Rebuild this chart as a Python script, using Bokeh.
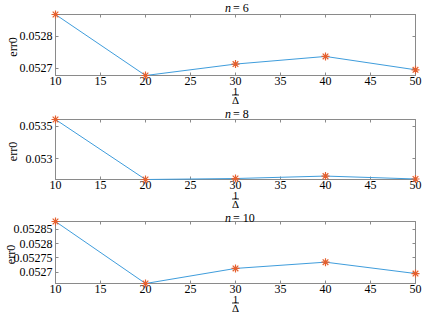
import math
from bokeh.plotting import figure
from bokeh.layouts import column
from bokeh.models import Range1d, LinearAxis, FixedTicker
from bokeh.core.properties import value
from bokeh.embed import file_html
from bokeh.resources import INLINE

# ---------------- data ----------------
x_vals = [10, 20, 30, 40, 50]
err_n6 = [0.052869, 0.052677, 0.052713, 0.052737, 0.052695]
err_n8 = [0.053608, 0.052682, 0.052697, 0.052735, 0.052690]
err_n10 = [0.052878, 0.052660, 0.052713, 0.052735, 0.052695]

x_ticks = [10, 15, 20, 25, 30, 35, 40, 45, 50]
yticks_n6 = [0.0527, 0.0528]
ylabels_n6 = ["0.0527", "0.0528"]
yticks_n8 = [0.053, 0.0535]
ylabels_n8 = ["0.053", "0.0535"]
yticks_n10 = [0.0527, 0.05275, 0.0528, 0.05285]
ylabels_n10 = ["0.0527", "0.05275", "0.0528", "0.05285"]

titles = ["6", "8", "10"]
x_label_top = "1"
x_label_bottom = "\u0394"
y_label = "err0"

# ---------------- style ----------------
W = 425
FONT = "Liberation Serif"
GRAY = "#8a8a8a"
LINE_C = "#3f9ddc"
MARK_C = "#e5602e"
LEFT, RIGHT = 55, 10

panels = [
    dict(y=err_n6, ticks=yticks_n6, labels=ylabels_n6, title=titles[0], top=14, fh=61, ylab_x=12.7, ty=7),
    dict(y=err_n8, ticks=yticks_n8, labels=ylabels_n8, title=titles[1], top=13, fh=60, ylab_x=12.7, ty=7),
    dict(y=err_n10, ticks=yticks_n10, labels=ylabels_n10, title=titles[2], top=9, fh=62, ylab_x=10.0, ty=5.5),
]

figs = []
for pan in panels:
    H = 106
    top = pan["top"]
    fh = pan["fh"]
    bottom = H - top - fh
    ys = pan["y"]
    ymin, ymax = min(ys), max(ys)
    xmin, xmax = min(x_vals), max(x_vals)
    fw = W - LEFT - RIGHT

    p = figure(width=W, height=H, x_range=Range1d(xmin, xmax), y_range=Range1d(ymin, ymax),
               output_backend="svg", toolbar_location=None,
               min_border_left=LEFT, min_border_right=RIGHT,
               min_border_top=top, min_border_bottom=bottom)
    p.background_fill_color = "white"
    p.border_fill_color = "white"
    p.outline_line_color = GRAY
    p.xgrid.visible = False
    p.ygrid.visible = False

    p.xaxis.ticker = FixedTicker(ticks=x_ticks)
    p.yaxis.ticker = FixedTicker(ticks=pan["ticks"])
    p.yaxis.major_label_overrides = dict(zip(pan["ticks"], pan["labels"]))

    for ax in (p.xaxis[0], p.yaxis[0]):
        ax.axis_line_color = GRAY
        ax.major_tick_line_color = GRAY
        ax.major_tick_in = 3
        ax.major_tick_out = 0
        ax.minor_tick_line_color = None
        ax.major_label_text_font = FONT
        ax.major_label_text_font_size = "12px"
        ax.major_label_text_color = "black"
    p.xaxis.major_label_standoff = 1
    p.yaxis.major_label_standoff = 3

    ax_top = LinearAxis(ticker=FixedTicker(ticks=x_ticks),
                        major_label_overrides={t: "" for t in x_ticks})
    ax_right = LinearAxis(ticker=FixedTicker(ticks=pan["ticks"]),
                          major_label_overrides={t: "" for t in pan["ticks"]})
    for ax in (ax_top, ax_right):
        ax.axis_line_color = GRAY
        ax.major_tick_line_color = GRAY
        ax.major_tick_in = 3
        ax.major_tick_out = 0
        ax.minor_tick_line_color = None
        ax.major_label_standoff = 0
    p.add_layout(ax_top, "above")
    p.add_layout(ax_right, "right")

    p.line(x_vals, ys, line_color=LINE_C, line_width=1, level="overlay")
    p.scatter(x_vals, ys, marker="asterisk", size=8, line_color=MARK_C, line_width=1.2,
              level="overlay")

    def xd(px):
        return xmin + (px - LEFT) / fw * (xmax - xmin)

    def yd(py):
        return ymax - (py - top) / fh * (ymax - ymin)

    cx = LEFT + fw / 2
    fb = top + fh
    f = value(FONT)
    # title: italic n, then "= k"
    p.text(x=[xd(cx - 4.5)], y=[yd(pan["ty"])], text=["n"], text_font=f,
           text_font_style="italic", text_font_size="12px", text_align="right",
           text_baseline="middle", level="overlay")
    p.text(x=[xd(cx - 2.5)], y=[yd(pan["ty"])], text=["= " + pan["title"]], text_font=f,
           text_font_size="12px", text_align="left", text_baseline="middle", level="overlay")
    # x label as fraction 1 / Δ
    p.text(x=[xd(cx)], y=[yd(fb + 15.5)], text=[x_label_top], text_font=f,
           text_font_size="11px", text_align="center", text_baseline="middle", level="overlay")
    p.segment(x0=[xd(cx - 3.5)], y0=[yd(fb + 19.5)], x1=[xd(cx + 3.5)], y1=[yd(fb + 19.5)],
              line_color="black", line_width=0.8, level="overlay")
    p.text(x=[xd(cx)], y=[yd(fb + 24.5)], text=[x_label_bottom], text_font=f,
           text_font_size="11px", text_align="center", text_baseline="middle", level="overlay")
    # y label
    p.text(x=[xd(pan["ylab_x"])], y=[yd(top + fh / 2 + 2)], text=[y_label], text_font=f,
           text_font_size="12px", text_align="center", text_baseline="middle",
           angle=math.pi / 2, level="overlay")
    figs.append(p)

layout = column(*figs, spacing=0)
open("out.html", "w").write(file_html(layout, INLINE))
